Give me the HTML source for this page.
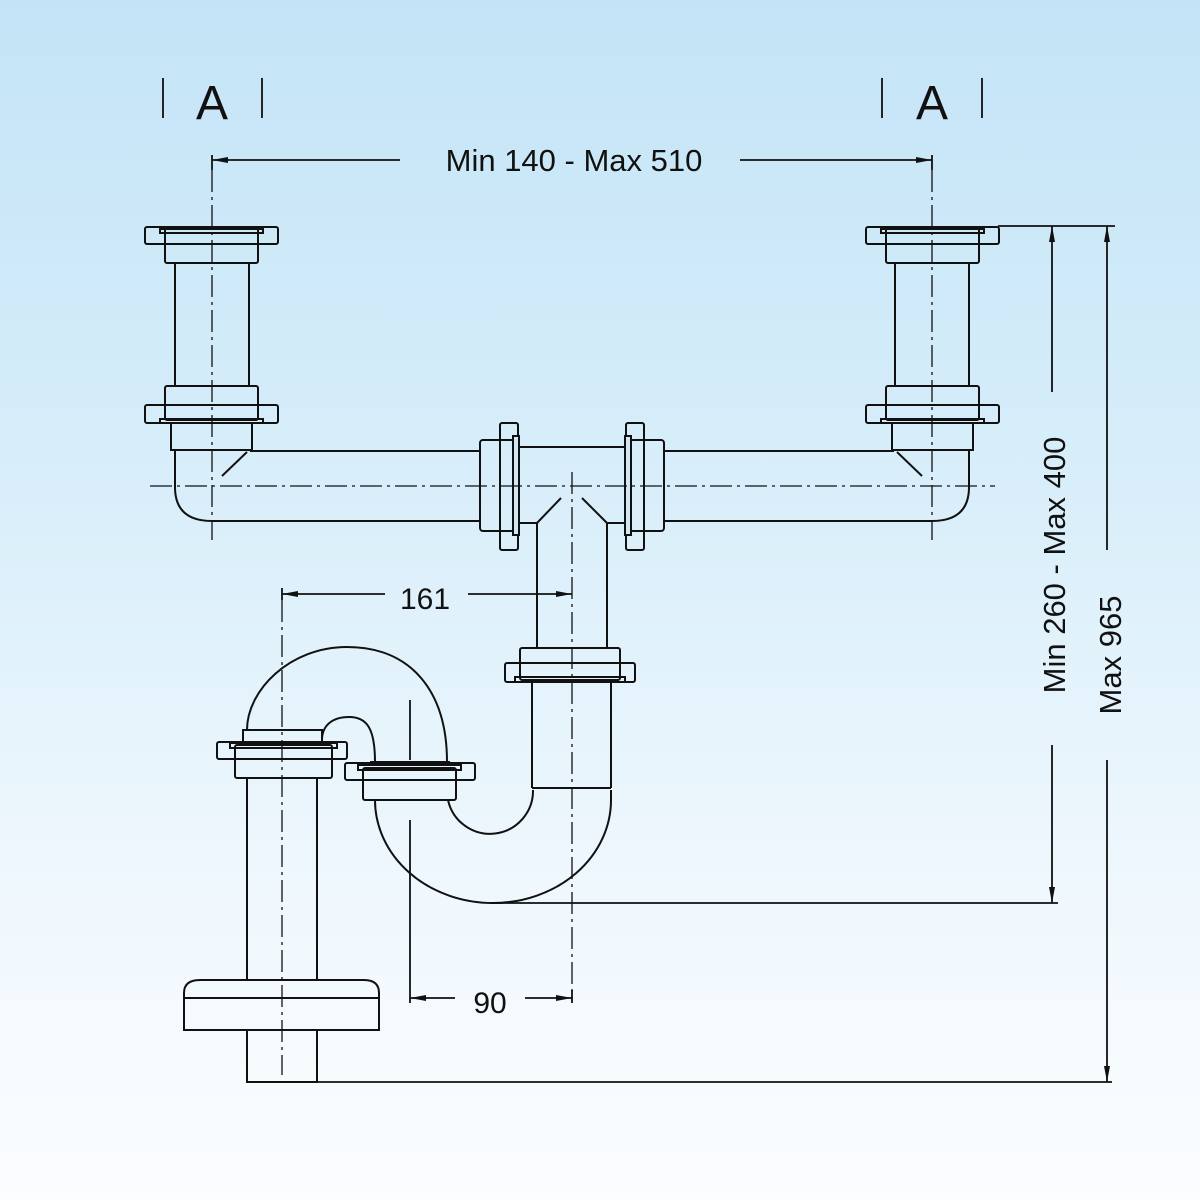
<!DOCTYPE html>
<html><head><meta charset="utf-8"><style>
html,body{margin:0;padding:0;}
body{width:1200px;height:1200px;background:linear-gradient(#c3e4f7 0%,#d8eefa 40%,#f0f8fd 75%,#fbfdff 100%);}
svg{display:block}
text{font-family:"Liberation Sans",sans-serif;fill:#111}
</style></head><body>
<svg width="1200" height="1200" viewBox="0 0 1200 1200" xmlns="http://www.w3.org/2000/svg">
<defs>
<marker id="ar" viewBox="0 0 16 6" refX="16" refY="3" markerWidth="16" markerHeight="6" orient="auto-start-reverse" markerUnits="userSpaceOnUse"><path d="M0,0 L16,3 L0,6 Z" fill="#111"/></marker>
<g id="col">
  <rect x="145" y="227" width="133" height="17" rx="2"/>
  <rect x="165" y="228" width="93" height="35" rx="2"/>
  <rect x="160" y="229" width="103" height="4"/>
  <line x1="175" y1="263" x2="175" y2="386"/>
  <line x1="249" y1="263" x2="249" y2="386"/>
  <rect x="145" y="405" width="133" height="18" rx="2"/>
  <rect x="165" y="386" width="93" height="34" rx="2"/>
  <rect x="160" y="419" width="103" height="4"/>
  <rect x="171" y="423" width="81" height="27"/>
  <line x1="174" y1="450" x2="250" y2="450"/>
  <path d="M175,450 L175,487 Q175,521 212,521 L480,521"/>
  <path d="M250,451 L480,451"/>
  <line x1="247" y1="452" x2="222" y2="476"/>
</g>
</defs>
<g fill="none" stroke="#111" stroke-width="2">
  <use href="#col"/>
  <use href="#col" transform="translate(1144,0) scale(-1,1)"/>
  <rect x="480" y="440" width="34" height="91" rx="3"/>
  <rect x="500" y="423" width="18" height="127" rx="2"/>
  <rect x="513" y="436" width="6" height="99" fill="#cfe8f6"/>
  <rect x="630" y="440" width="34" height="91" rx="3"/>
  <rect x="626" y="423" width="18" height="127" rx="2"/>
  <rect x="625" y="436" width="6" height="99" fill="#cfe8f6"/>
  <line x1="519" y1="447" x2="625" y2="447"/>
  <line x1="519" y1="523" x2="537" y2="523"/>
  <line x1="607" y1="523" x2="625" y2="523"/>
  <line x1="537" y1="523" x2="561" y2="498"/>
  <line x1="607" y1="523" x2="582" y2="498"/>
  <line x1="537" y1="523" x2="537" y2="648"/>
  <line x1="607" y1="523" x2="607" y2="648"/>
  <rect x="505" y="663" width="130" height="19" rx="2"/>
  <rect x="520" y="648" width="100" height="32" rx="2"/>
  <rect x="515" y="677" width="110" height="5"/>
  <line x1="532" y1="682" x2="532" y2="788"/>
  <line x1="611" y1="682" x2="611" y2="788"/>
  <line x1="532" y1="788" x2="611" y2="788"/>
  <path d="M611,790 L611,800 A118,103 0 0 1 375,800"/>
  <path d="M533,790 L533,790 A43,43 0 0 1 448,800"/>
  <rect x="345" y="763" width="130" height="17" rx="2"/>
  <rect x="363" y="768" width="93" height="32" rx="2"/>
  <rect x="358" y="765" width="103" height="5"/>
  <line x1="370" y1="762" x2="450" y2="762"/>
  <path d="M247,730 C247,690 290,647 347,647 C410,647 447,690 447,762"/>
  <path d="M322,740 C322,725 333,717 349,717 C366,717 375,727 375,762"/>
  <rect x="243" y="730" width="79" height="12"/>
  <rect x="217" y="742" width="130" height="17" rx="2"/>
  <rect x="235" y="745" width="97" height="33" rx="2"/>
  <rect x="230" y="743" width="107" height="5"/>
  <line x1="247" y1="778" x2="247" y2="980"/>
  <line x1="317" y1="778" x2="317" y2="980"/>
  <path d="M184,1030 L184,993 Q184,980 200,980 L364,980 Q379,980 379,993 L379,1030 Z"/>
  <line x1="184" y1="998" x2="379" y2="998"/>
  <path d="M247,1030 L247,1082 L317,1082 L317,1030"/>
</g>
<g fill="none" stroke="#111" stroke-width="1.3" stroke-dasharray="22,5,3,5">
  <line x1="150" y1="486" x2="995" y2="486"/>
  <line x1="212" y1="170" x2="212" y2="540"/>
  <line x1="932" y1="170" x2="932" y2="540"/>
  <line x1="572" y1="472" x2="572" y2="1000"/>
  <line x1="282" y1="600" x2="282" y2="1075"/>
</g>
<g fill="none" stroke="#111" stroke-width="1.8">
  <line x1="163" y1="78" x2="163" y2="118"/><line x1="262" y1="78" x2="262" y2="118"/>
  <line x1="882" y1="78" x2="882" y2="118"/><line x1="982" y1="78" x2="982" y2="118"/>
  <line x1="212" y1="155" x2="212" y2="170"/><line x1="932" y1="155" x2="932" y2="170"/>
  <line x1="400" y1="160" x2="212" y2="160" marker-end="url(#ar)"/>
  <line x1="740" y1="160" x2="932" y2="160" marker-end="url(#ar)"/>
  <line x1="998" y1="226" x2="1115" y2="226"/>
  <line x1="1052" y1="392" x2="1052" y2="226" marker-end="url(#ar)"/>
  <line x1="1052" y1="745" x2="1052" y2="903" marker-end="url(#ar)"/>
  <line x1="1107" y1="550" x2="1107" y2="226" marker-end="url(#ar)"/>
  <line x1="1107" y1="760" x2="1107" y2="1082" marker-end="url(#ar)"/>
  <line x1="490" y1="903" x2="1058" y2="903"/>
  <line x1="317" y1="1082" x2="1112" y2="1082"/>
  <line x1="282" y1="588" x2="282" y2="600"/>
  <line x1="385" y1="594" x2="282" y2="594" marker-end="url(#ar)"/>
  <line x1="468" y1="594" x2="572" y2="594" marker-end="url(#ar)"/>
  <line x1="410" y1="700" x2="410" y2="760"/>
  <line x1="410" y1="820" x2="410" y2="1003"/>
  <line x1="572" y1="990" x2="572" y2="1003"/>
  <line x1="455" y1="998" x2="410" y2="998" marker-end="url(#ar)"/>
  <line x1="525" y1="998" x2="572" y2="998" marker-end="url(#ar)"/>
</g>
<text x="212" y="119" font-size="48" text-anchor="middle">A</text>
<text x="932" y="119" font-size="48" text-anchor="middle">A</text>
<text x="574" y="171" font-size="31" text-anchor="middle">Min 140 - Max 510</text>
<text x="425" y="609" font-size="30" text-anchor="middle">161</text>
<text x="490" y="1013" font-size="30" text-anchor="middle">90</text>
<text transform="translate(1065,565) rotate(-90)" font-size="31" text-anchor="middle">Min 260 - Max 400</text>
<text transform="translate(1121,655) rotate(-90)" font-size="31" text-anchor="middle">Max 965</text>
</svg>
</body></html>
